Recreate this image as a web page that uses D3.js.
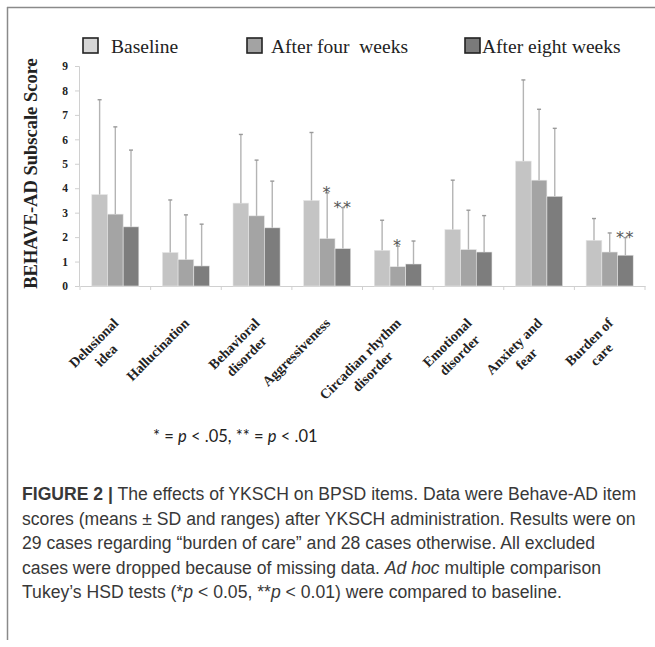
<!DOCTYPE html>
<html><head><meta charset="utf-8">
<script src="https://cdn.jsdelivr.net/npm/d3@7"></script>
<style>body{margin:0;background:#fff}</style>
</head><body>
<svg id="c" width="655" height="647"></svg>
<script>
// ---- data ----
const categories = [["Delusional","idea"],["Hallucination"],["Behavioral","disorder"],["Aggressiveness"],["Circadian rhythm","disorder"],["Emotional","disorder"],["Anxiety and","fear"],["Burden of","care"]];
const seriesNames = ["Baseline","After four  weeks","After eight weeks"];
const baselineMean = [3.74,1.37,3.39,3.50,1.46,2.31,5.11,1.87];
const baselineSD   = [3.88,2.15,2.81,2.78,1.23,2.02,3.32,0.89];
const week4Mean    = [2.94,1.08,2.87,1.94,0.79,1.49,4.33,1.39];
const week4SD      = [3.57,1.83,2.28,1.87,0.84,1.61,2.90,0.78];
const week8Mean    = [2.42,0.82,2.38,1.53,0.90,1.39,3.67,1.26];
const week8SD      = [3.14,1.71,1.91,1.68,0.94,1.49,2.78,0.72];
const week4Sig     = ["","","","*","*","","",""];
const week8Sig     = ["","","","**","","","","**"];
const yTicks = [0,1,2,3,4,5,6,7,8,9];
const captionLines = [
  [["FIGURE 2 |","b"],[" The effects of YKSCH on BPSD items. Data were Behave-AD item",""]],
  [["scores (means \u00B1 SD and ranges) after YKSCH administration. Results were on",""]],
  [["29 cases regarding \u201Cburden of care\u201D and 28 cases otherwise. All excluded",""]],
  [["cases were dropped because of missing data. ",""],["Ad hoc","i"],[" multiple comparison",""]],
  [["Tukey\u2019s HSD tests (*",""],["p","i"],[" < 0.05, **",""],["p","i"],[" < 0.01) were compared to baseline.",""]]
];

const series = [
  {name: seriesNames[0], mean: baselineMean, sd: baselineSD, sig: null, fill: "#c4c4c4", legend: "#d6d6d6"},
  {name: seriesNames[1], mean: week4Mean, sd: week4SD, sig: week4Sig, fill: "#a4a4a4", legend: "#a3a3a3"},
  {name: seriesNames[2], mean: week8Mean, sd: week8SD, sig: week8Sig, fill: "#7d7d7d", legend: "#7a7a7a"}
];

const svg = d3.select("#c");
// frame
svg.append("line").attr("x1",7).attr("x2",655).attr("y1",7.5).attr("y2",7.5).attr("stroke","#8a8a8a").attr("stroke-width",1.5);
svg.append("line").attr("x1",7.5).attr("x2",7.5).attr("y1",7).attr("y2",640).attr("stroke","#8a8a8a").attr("stroke-width",1.5);

const serif = "'Liberation Serif','Times New Roman',serif";
const mLeft = 80, mRight = 645, mTop = 66, mBottom = 286;
const x0 = d3.scaleBand().domain(d3.range(categories.length)).range([mLeft,mRight]).paddingInner(0).paddingOuter(0);
const x1 = d3.scaleBand().domain(d3.range(series.length)).range([0, x0.bandwidth()]).paddingOuter(0.75).paddingInner(0);
const y = d3.scaleLinear().domain([0,9]).range([mBottom, mTop]);

// y axis
const yAxis = svg.append("g").attr("transform",`translate(${mLeft-1},0)`)
  .call(d3.axisLeft(y).tickValues(yTicks).tickSize(4).tickPadding(7));
yAxis.select(".domain").attr("stroke","#d0d0d0");
yAxis.selectAll(".tick line").attr("stroke","#d0d0d0");
yAxis.selectAll(".tick text").attr("font-family",serif).attr("font-weight","bold").attr("font-size",11.5).attr("fill","#222");

// x axis
const xAxis = svg.append("g").attr("transform",`translate(0,${mBottom})`)
  .call(d3.axisBottom(x0).tickValues([]).tickSizeOuter(0));
xAxis.select(".domain").attr("stroke","#d0d0d0");
svg.append("g").selectAll("line").data(d3.range(categories.length+1)).join("line")
  .attr("x1", i => mLeft + i*x0.step()).attr("x2", i => mLeft + i*x0.step())
  .attr("y1", mBottom).attr("y2", mBottom+4).attr("stroke","#d0d0d0");

// bars
const groups = svg.append("g").selectAll("g").data(categories).join("g")
  .attr("transform",(d,i)=>`translate(${x0(i)},0)`);
series.forEach((s,si)=>{
  groups.append("rect")
    .attr("x", x1(si)).attr("width", x1.bandwidth())
    .attr("y",(d,i)=>y(s.mean[i])).attr("height",(d,i)=>mBottom-y(s.mean[i]))
    .attr("fill", s.fill).attr("stroke","#e6e6e6").attr("stroke-width",0.6);
  groups.append("line")
    .attr("x1", x1(si)+x1.bandwidth()/2).attr("x2", x1(si)+x1.bandwidth()/2)
    .attr("y1",(d,i)=>y(s.mean[i])).attr("y2",(d,i)=>y(s.mean[i]+s.sd[i]))
    .attr("stroke","#b4b4b4").attr("stroke-width",1.4);
  groups.append("line")
    .attr("x1", x1(si)+x1.bandwidth()/2-2).attr("x2", x1(si)+x1.bandwidth()/2+2)
    .attr("y1",(d,i)=>y(s.mean[i]+s.sd[i])).attr("y2",(d,i)=>y(s.mean[i]+s.sd[i]))
    .attr("stroke","#999").attr("stroke-width",1.4);
  if (s.sig) {
    groups.append("text")
      .attr("x", x1(si)+x1.bandwidth()/2)
      .attr("y",(d,i)=>y(s.mean[i]+s.sd[i]) + 5)
      .attr("text-anchor","middle")
      .attr("font-family","'DejaVu Sans',sans-serif").attr("font-size",16).attr("fill","#555")
      .attr("letter-spacing", 1.5)
      .text((d,i)=>s.sig[i]);
  }
});

// x labels rotated
categories.forEach((lines,i)=>{
  const cx = x0(i) + x0.bandwidth()/2;
  const g = svg.append("g").attr("transform",`translate(${cx+4},${324}) rotate(-45)`);
  const t = g.append("text").attr("font-family",serif).attr("font-weight","bold").attr("font-size",14).attr("fill","#222");
  const spans = lines.map((l,li)=> t.append("tspan").attr("y", li*17.5).attr("text-anchor","middle").text(l));
  let W = 0;
  spans.forEach(sp => { W = Math.max(W, sp.node().getComputedTextLength()); });
  spans.forEach(sp => sp.attr("x", -W/2));
});

// y title
svg.append("text").attr("transform","translate(36.5,173.5) rotate(-90)")
  .attr("text-anchor","middle").attr("font-family",serif).attr("font-weight","bold").attr("font-size",18.5).attr("fill","#222")
  .text("BEHAVE-AD Subscale Score");

// legend
const legendX = [83, 247, 465];
const legendTextX = [111, 271, 482];
series.forEach((s,si)=>{
  svg.append("rect").attr("x",legendX[si]).attr("y",38).attr("width",15).attr("height",15)
    .attr("fill",s.legend).attr("stroke","#222").attr("stroke-width",1.6);
  svg.append("text").attr("x",legendTextX[si]).attr("y",52.5)
    .attr("font-family",serif).attr("font-size",19.5).attr("fill","#222")
    .style("white-space","pre")
    .text(s.name);
});

// footnote
const fn = svg.append("text").attr("x",153).attr("y",442).attr("font-family","Lato,'Open Sans',sans-serif").attr("font-size",16.5).attr("fill","#222");
[["* = ",""],["p","i"],[" < .05, ** = ",""],["p","i"],[" < .01",""]].forEach(([s,st])=>{
  fn.append("tspan").attr("font-style",st==="i"?"italic":"normal").text(s);
});

// caption
captionLines.forEach((parts,li)=>{
  const t = svg.append("text").attr("x",22).attr("y",500 + li*24.5)
    .attr("font-family","'Liberation Sans',Arial,sans-serif").attr("font-size",17.6).attr("fill","#383838");
  parts.forEach(([s,st])=>{
    t.append("tspan").attr("font-weight",st==="b"?"bold":"normal").attr("font-style",st==="i"?"italic":"normal").text(s);
  });
});
</script>
</body></html>
